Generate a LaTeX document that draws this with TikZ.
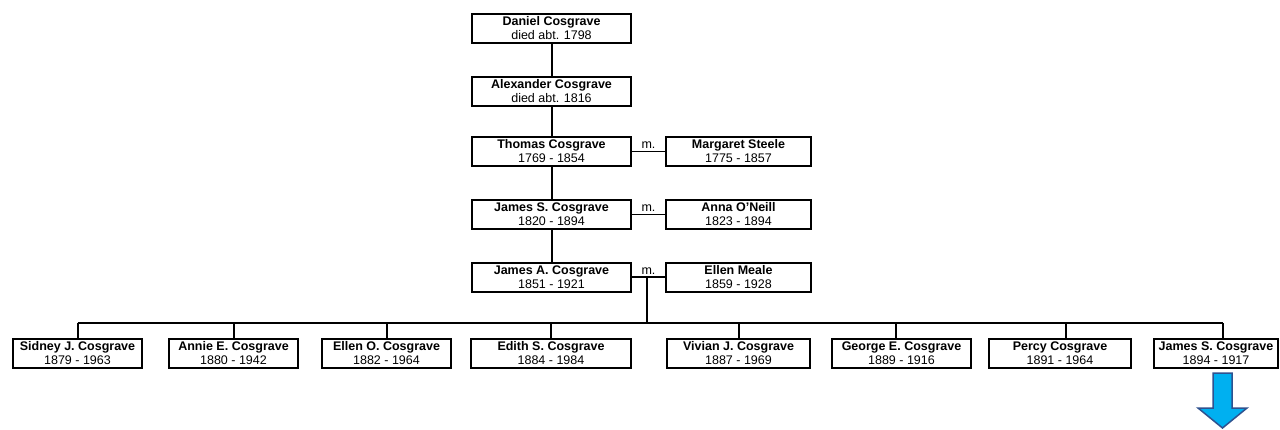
\documentclass[tikz,border=0pt]{standalone}
\usepackage{fontspec}
\setmainfont{Liberation Sans}
\usepackage{xcolor}
\usepackage{tikz}
\usetikzlibrary{positioning}

\definecolor{arrowfill}{RGB}{0,176,240}
\definecolor{arrowline}{RGB}{47,82,143}

\begin{document}
\begin{tikzpicture}[x=1pt,y=-1pt]
        \useasboundingbox (0,0) rectangle (1280,429);
        \begin{scope}[every node/.style={draw,line width=2pt,minimum height=29pt,inner sep=0pt,align=center,font=\fontsize{12.5}{14}\selectfont}]
          % ancestors
          \node[minimum width=159pt] (dan) at (551.5,28) {\textbf{Daniel Cosgrave}\\died abt. 1798};
          \node[minimum width=159pt] (alex) at (551.5,91) {\textbf{Alexander Cosgrave}\\died abt. 1816};
          \node[minimum width=159pt] (thom) at (551.5,151.5) {\textbf{Thomas Cosgrave}\\1769 - 1854};
          \node[minimum width=145pt] (marg) at (738.5,151.5) {\textbf{Margaret Steele}\\1775 - 1857};
          \node[minimum width=159pt] (jims) at (551.5,214.5) {\textbf{James S. Cosgrave}\\1820 - 1894};
          \node[minimum width=145pt] (anna) at (738.5,214.5) {\textbf{Anna O'Neill}\\1823 - 1894};
          \node[minimum width=159pt] (jima) at (551.5,277) {\textbf{James A. Cosgrave}\\1851 - 1921};
          \node[minimum width=145pt] (ellen) at (738.5,277) {\textbf{Ellen Meale}\\1859 - 1928};
          % children
          \node[minimum width=129pt] (sid) at (77.5,353.5) {\textbf{Sidney J. Cosgrave}\\1879 - 1963};
          \node[minimum width=129pt] (annie) at (233.5,353.5) {\textbf{Annie E. Cosgrave}\\1880 - 1942};
          \node[minimum width=129pt] (elo) at (386.5,353.5) {\textbf{Ellen O. Cosgrave}\\1882 - 1964};
          \node[minimum width=160pt] (edith) at (551,353.5) {\textbf{Edith S. Cosgrave}\\1884 - 1984};
          \node[minimum width=143pt] (viv) at (738.5,353.5) {\textbf{Vivian J. Cosgrave}\\1887 - 1969};
          \node[minimum width=139pt] (geo) at (901.5,353.5) {\textbf{George E. Cosgrave}\\1889 - 1916};
          \node[minimum width=142pt] (percy) at (1060,353.5) {\textbf{Percy Cosgrave}\\1891 - 1964};
          \node[minimum width=124pt] (jamc) at (1216,353.5) {\textbf{James S. Cosgrave}\\1894 - 1917};
        \end{scope}
        \coordinate (bus) at (0,323);
        \begin{scope}[every edge/.style={draw=black,line width=2pt}]
          \path (dan) edge (alex);
          \path (alex) edge (thom);
          \path (thom) edge (jims);
          \path (jims) edge (jima);
        \end{scope}
        \begin{scope}[every node/.style={above,inner sep=2pt,font=\fontsize{12.5}{14}\selectfont}]
          \draw[line width=1.2pt] (thom.east) -- node {m.} (marg.west);
          \draw[line width=1.2pt] (jims.east) -- node {m.} (anna.west);
          \draw[line width=1.2pt] (jima.east) -- node {m.} coordinate[pos=0.45] (wed) (ellen.west);
        \end{scope}
        \begin{scope}[line width=2pt]
          \draw (wed) -- (wed |- bus);
          \draw (sid.north |- bus) -- ([xshift=7pt]jamc.north |- bus);
          \draw (sid.north) -- (sid.north |- bus);
          \draw (annie.north) -- (annie.north |- bus);
          \draw (elo.north) -- (elo.north |- bus);
          \draw (edith.north) -- (edith.north |- bus);
          \draw (viv.north) -- (viv.north |- bus);
          \draw ([xshift=-6pt]geo.north) -- ([xshift=-6pt]geo.north |- bus);
          \draw ([xshift=6pt]percy.north) -- ([xshift=6pt]percy.north |- bus);
          \draw ([xshift=7pt]jamc.north) -- ([xshift=7pt]jamc.north |- bus);
        \end{scope}
        % arrow to next page
        \draw[line width=1.5pt,draw=arrowline,fill=arrowfill,line join=miter]
          (1213,373) -- (1232,373) -- (1232,408) -- (1247,408) -- (1222.5,428)
          -- (1198,408) -- (1213,408) -- cycle;
      \end{tikzpicture}
\end{document}
